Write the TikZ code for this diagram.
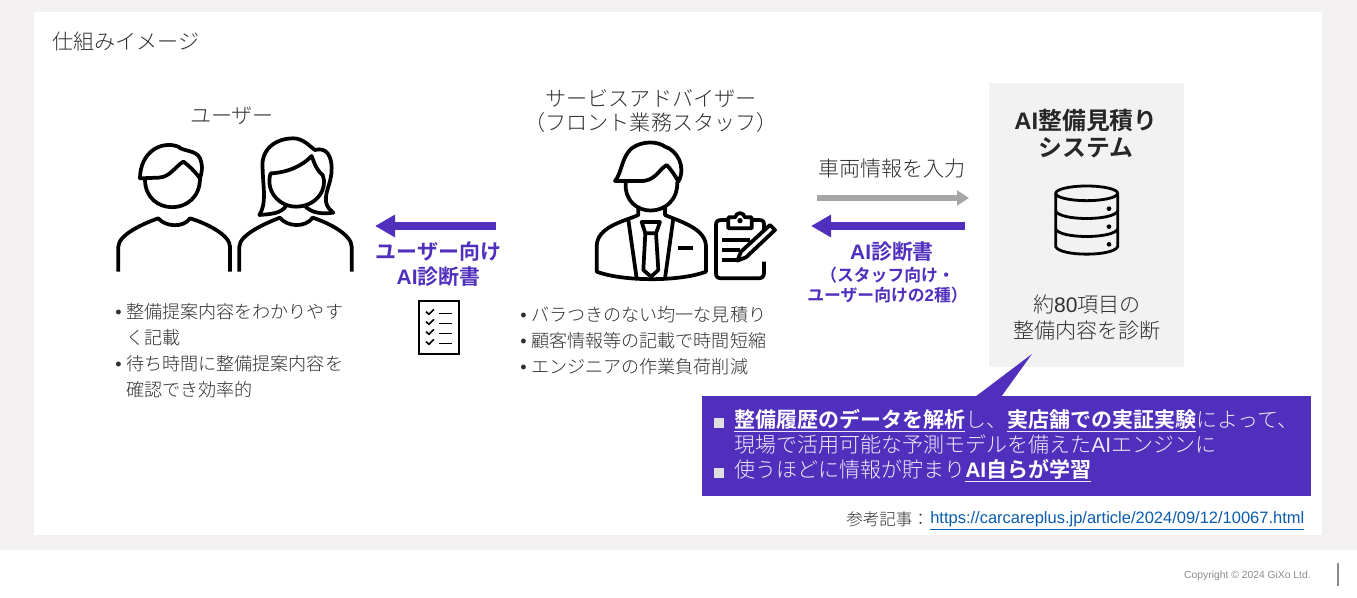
\documentclass[tikz,border=0pt]{standalone}
\usepackage{fontspec}
\setmainfont{Liberation Sans}
\newfontfamily\jp{Noto Sans CJK JP Light}[BoldFont={Noto Sans CJK JP Bold}]
\usetikzlibrary{arrows.meta,positioning}
\definecolor{bggray}{HTML}{F2F0F1}
\definecolor{boxgray}{HTML}{F2F2F2}
\definecolor{txtgray}{HTML}{303030}
\definecolor{aipurple}{HTML}{512FBD}
\definecolor{linkblue}{HTML}{0B5CAD}
\definecolor{softwhite}{HTML}{EDEAF8}
\newcommand{\en}[1]{{\rmfamily #1}}
\newcommand{\fs}[2]{\fontsize{#1}{#2}\selectfont}
\newcommand{\dotmark}{\makebox[8.25pt][l]{\en{•}}}
\newcommand{\dotgap}{\makebox[8.25pt][l]{}}
\newcommand{\squaremark}{\makebox[15pt][l]{\textcolor{black!12}{\rule{7.2pt}{7.2pt}}}}
\newcommand{\squaregap}{\makebox[15pt][l]{}}
\newcommand{\whiteul}[1]{\underline{\textcolor{white}{\bfseries #1}}}
\tikzset{
	txt/.style={inner sep=0pt,text=txtgray,font=\jp\fs{15.8}{19}},
	bullets/.style={inner sep=0pt,anchor=west,align=left,text=txtgray,font=\jp\fs{13.55}{19.6}},
	purpletxt/.style={inner sep=0pt,align=center,text=aipurple,font=\jp\bfseries\fs{15.7}{19}},
	sysname/.style={inner sep=0pt,align=center,text=black!85,font=\jp\bfseries\fs{17.9}{20.3}},
	icon/.style={line width=2.8pt,line join=round},
	thinicon/.style={line width=2.1pt,line join=round},
	purplearrow/.style={draw=aipurple,line width=5.5pt,-{Triangle[length=15pt,width=16pt]}},
	grayarrow/.style={draw=black!35,line width=3.8pt,-{Triangle[length=9pt,width=11pt]}}
}
\begin{document}
\begin{tikzpicture}[x=0.75pt,y=-0.75pt]
	\useasboundingbox (0,0) rectangle (1357,598);
	\fill[bggray] (0,0) rectangle (1357,598);
	\fill[white] (34,12) rectangle (1322,535);
	\fill[white] (0,550) rectangle (1357,598);
	\fill[boxgray] (989,83) rectangle (1184,367);
	\node[txt,anchor=west] (title) at (52,42) {仕組みイメージ};
	\node[txt] (user) at (232,116) {ユーザー};
	\node[txt,align=center,font=\jp\fs{15.8}{18.7}] (advisor) at (651,111) {サービスアドバイザー\\（フロント業務スタッフ）};
	\node[txt] (input) at (892,169) {車両情報を入力};
	\node[sysname] (system) at (1086,134) {\en{AI}整備見積り\\システム};
	\node[txt,align=center,font=\jp\fs{15.8}{19.5}] (diagnose) at (1087,318) {約\en{80}項目の\\整備内容を診断};
	\node[bullets] (userlist) at (115,350.500) {\dotmark 整備提案内容をわかりやす\\\dotgap く記載\\\dotmark 待ち時間に整備提案内容を\\\dotgap 確認でき効率的};
	\node[bullets] (advisorlist) at (520,340.500) {\dotmark バラつきのない均一な見積り\\\dotmark 顧客情報等の記載で時間短縮\\\dotmark エンジニアの作業負荷削減};
	\node[purpletxt] (userreport) at (438.500,264) {ユーザー向け\\\en{AI}診断書};
	\node[purpletxt] (staffreport) at (892,252) {\en{AI}診断書};
	\node[purpletxt,font=\jp\bfseries\fs{12.6}{15}] (reportnote) at (887.500,285) {（スタッフ向け・\\ユーザー向けの\en{2}種）};
	\coordinate (inputstart) at (817,198);
	\coordinate (inputend) at (969,198);
	\coordinate (reportstart) at (965,226);
	\coordinate (reportend) at (811,226);
	\coordinate (userstart) at (496,226);
	\coordinate (userend) at (375,226);
	\draw[grayarrow] (inputstart)--(inputend);
	\draw[purplearrow] (reportstart)--(reportend);
	\draw[purplearrow] (userstart)--(userend);
	% callout
	\fill[aipurple] (702,396) rectangle (1311,496);
	\fill[aipurple] (975,397)--(1032,354)--(1001,397)--cycle;
	\node[inner sep=0pt,anchor=west,align=left,text=softwhite,font=\jp\fs{15.75}{18.8}] (notes) at (714,446) {\squaremark\whiteul{整備履歴のデータを解析}し、\whiteul{実店舗での実証実験}によって、\\\squaregap 現場で活用可能な予測モデルを備えた\en{AI}エンジンに\\\squaremark 使うほどに情報が貯まり\whiteul{\en{AI}自らが学習}};
	\node[inner sep=0pt,anchor=west,text=txtgray,font=\jp\fs{12.4}{15}] (refs) at (846,519.500) {参考記事：};
	\node[inner sep=0pt,anchor=west,text=linkblue,font=\fs{12.37}{15}] (link) at (930,521) {\underline{https://carcareplus.jp/article/2024/09/12/10067.html}};
	\node[inner sep=0pt,anchor=east,text=black!45,font=\fs{7.75}{9}] (copy) at (1311,576) {Copyright © 2024 GiXo Ltd.};
	\draw[black!45,line width=0.9pt] (1338,563)--(1338,586);
	% users
	\begin{scope}[shift={(100,90)},scale=1/3]
		\draw[icon] (55,545)--(55,470) .. controls (55,435) and (130,400) .. (175,385) .. controls (195,410) and (250,415) .. (270,385) .. controls (320,400) and (390,435) .. (390,470)--(390,545);
		\draw[icon] (135,268) .. controls (135,380) and (300,380) .. (300,265);
		\draw[icon] (120,265) .. controls (120,190) and (180,150) .. (235,170) .. controls (250,185) and (290,180) .. (300,205) .. controls (310,230) and (305,250) .. (300,265) .. controls (285,245) and (265,225) .. (250,215) .. controls (225,230) and (210,262) .. (175,263)--cycle;
		\draw[icon] (418,545)--(418,470) .. controls (418,435) and (495,400) .. (540,383) .. controls (560,410) and (615,415) .. (638,383) .. controls (690,400) and (755,435) .. (755,470)--(755,545);
		\draw[icon] (512,250) .. controls (495,300) and (535,350) .. (588,350) .. controls (650,350) and (685,295) .. (668,255) .. controls (650,240) and (645,225) .. (635,198) .. controls (610,225) and (565,248) .. (512,250)--cycle;
		\draw[icon] (560,345) .. controls (545,372) and (510,372) .. (478,375) .. controls (500,340) and (490,300) .. (488,240) .. controls (480,175) and (530,145) .. (580,145) .. controls (610,145) and (630,170) .. (645,180) .. controls (680,170) and (695,200) .. (695,235) .. controls (695,280) and (675,300) .. (678,335) .. controls (680,350) and (690,360) .. (700,368) .. controls (670,372) and (635,372) .. (612,345);
	\end{scope}
	% advisor
	\begin{scope}[shift={(580,130)},scale=1/3]
		\draw[icon] (137,158) .. controls (130,270) and (295,270) .. (292,155);
		\draw[icon] (105,153) .. controls (125,130) and (125,80) .. (155,55) .. controls (190,30) and (235,35) .. (255,50) .. controls (290,60) and (320,110) .. (295,155) .. controls (285,135) and (270,115) .. (260,105) .. controls (235,120) and (225,155) .. (180,153)--cycle;
		\draw[icon] (175,228)--(175,255) .. controls (130,275) and (50,290) .. (50,350)--(50,425) .. controls (130,455) and (300,455) .. (378,425)--(378,350) .. controls (378,295) and (300,275) .. (255,255)--(255,228);
		\draw[icon] (145,270)--(170,445);
		\draw[icon] (280,265)--(255,445);
		\draw[icon] (185,276)--(240,276)--(228,310)--(196,310)--cycle;
		\draw[icon] (196,310)--(190,420)--(213,440)--(235,420)--(228,310);
		\draw[icon] (295,355)--(340,355);
		\draw[icon] (552,325)--(552,282) .. controls (552,272) and (545,270) .. (535,270)--(425,270) .. controls (412,270) and (408,275) .. (408,285)--(408,430) .. controls (408,440) and (412,445) .. (425,445)--(535,445) .. controls (545,445) and (552,440) .. (552,430)--(552,395);
		\draw[icon,fill=white] (445,295)--(445,262)--(465,262) .. controls (470,245) and (490,245) .. (495,262)--(515,262)--(515,295)--cycle;
		\fill (480,272) circle (8);
		\draw[icon] (425,330)--(510,330);
		\draw[icon] (425,360)--(480,360);
		\draw[icon] (425,390)--(468,390);
		\draw[icon,fill=white] (472,392)--(483,365)--(570,285)--(585,300)--(498,382)--cycle;
	\end{scope}
	% database
	\begin{scope}[shift={(1030,175)},scale=1/3]
		\draw[thinicon] (170,55) ellipse (93 and 22);
		\draw[thinicon] (77,55)--(77,215) .. controls (90,245) and (250,245) .. (263,215)--(263,55);
		\draw[thinicon] (77,108) .. controls (90,138) and (250,138) .. (263,108);
		\draw[thinicon] (77,162) .. controls (90,192) and (250,192) .. (263,162);
		\foreach \diskdot in {101,155,208}
			\fill (237,\diskdot) circle (7);
	\end{scope}
	% checklist
	\begin{scope}[shift={(370,210)},scale=1/3]
		\draw[line width=1.5pt] (148,272) rectangle (266,432);
		\foreach \rowy in {310,340,370,400} {
			\draw[line width=1.2pt] (168,\rowy-5)--(177,\rowy+3)--(192,\rowy-12);
			\draw[line width=1.2pt] (207,\rowy)--(245,\rowy);
		}
	\end{scope}
\end{tikzpicture}
\end{document}
